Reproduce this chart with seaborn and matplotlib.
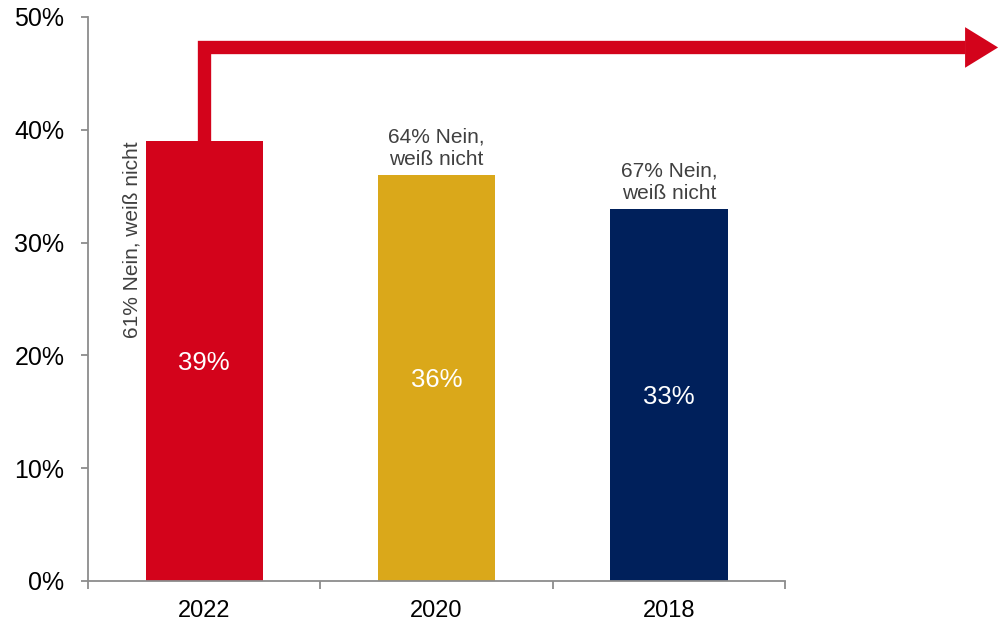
import matplotlib
matplotlib.use("Agg")
import matplotlib.pyplot as plt
import seaborn as sns
import pandas as pd
from matplotlib.patches import Polygon
from matplotlib.ticker import FuncFormatter, FixedLocator

years = ["2022", "2020", "2018"]
values = [39, 36, 33]
value_labels = ["39%", "36%", "33%"]
side_labels = ["61% Nein, weiß nicht", "64% Nein,\nweiß nicht", "67% Nein,\nweiß nicht"]
colors = ["#D3031B", "#DAA81A", "#00205B"]
yticks = [0, 10, 20, 30, 40, 50]

sns.set_theme(style="white")
plt.rcParams["font.family"] = ["Liberation Sans", "DejaVu Sans"]

df = pd.DataFrame({"year": years, "value": values})

fig = plt.figure(figsize=(9.98, 6.25), dpi=100)
ax = fig.add_axes([0.0882, 0.0704, 0.6984, 0.9024])

sns.barplot(data=df, x="year", y="value", hue="year", palette=colors,
            width=0.505, saturation=1, legend=False, linewidth=0, ax=ax)

ax.set_xlim(-0.5, 2.5)
ax.set_ylim(0, 50)
ax.set_yticks(yticks)
ax.yaxis.set_major_formatter(FuncFormatter(lambda v, p: f"{v:.0f}%"))
ax.set_xlabel("")
ax.set_ylabel("")

grey = "#8C8C8C"
for s in ["top", "right"]:
    ax.spines[s].set_visible(False)
for s in ["left", "bottom"]:
    ax.spines[s].set_color(grey)
    ax.spines[s].set_linewidth(1.3)

ax.tick_params(axis="y", which="major", direction="out", length=5, width=1.3,
               color=grey, labelsize=18, pad=12, left=True, labelcolor="#000000")
ax.tick_params(axis="x", which="major", length=0, labelsize=17, pad=14,
               labelcolor="#000000")
ax.xaxis.set_minor_locator(FixedLocator([-0.5, 0.5, 1.5, 2.5]))
ax.tick_params(axis="x", which="minor", direction="out", length=6, width=1.3,
               color=grey, bottom=True)

# value labels inside bars
for i, (v, lab) in enumerate(zip(values, value_labels)):
    ax.text(i, v / 2 - 0.15, lab, ha="center", va="center", color="white", fontsize=18.5)

# side / top annotations
ax.text(-0.27, values[0], side_labels[0], rotation=90, ha="right", va="top",
        color="#404040", fontsize=15)
for i in (1, 2):
    ax.text(i, values[i] + 0.5, side_labels[i], ha="center", va="bottom",
            color="#404040", fontsize=15, linespacing=1.25)

# red arrow from top of 2022 bar
arrow_y = 47.3
x_end = 3.275
ax.plot([0, 0, x_end], [values[0], arrow_y, arrow_y], color=colors[0], lw=9.6,
        solid_joinstyle="miter", solid_capstyle="butt", clip_on=False, zorder=5)
head = Polygon([[x_end, arrow_y + 1.8], [3.417, arrow_y], [x_end, arrow_y - 1.8]],
               closed=True, color=colors[0], clip_on=False, zorder=5, lw=0)
ax.add_patch(head)

fig.savefig("out.png", dpi=100)
